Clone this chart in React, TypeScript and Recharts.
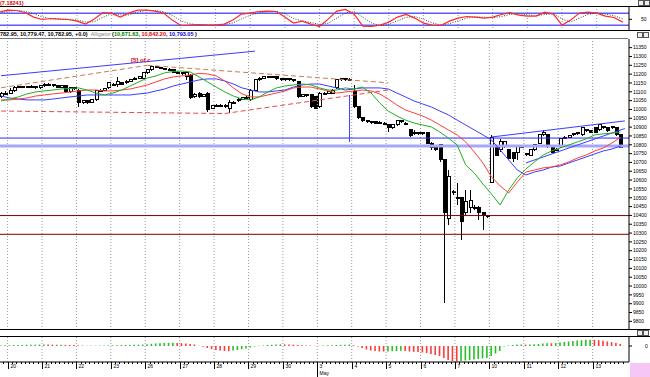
import React from 'react';
import { ComposedChart, Bar, Line, XAxis, YAxis, ReferenceLine, Cell } from 'recharts';

// ---------- data ----------
const OPEN = [11076,11088,11093,11110,11127,11127,11130,11127,11130,11122,
11133,11144,11139,11133,11127,11133,11099,11122,11110,11037,
11048,11042,11054,11105,11110,11122,11144,11139,11150,11150,
11161,11173,11178,11178,11207,11224,11241,11235,11232,11229,
11224,11212,11207,11184,11195,11071,11093,11076,11093,11008,
11020,11025,11014,11008,11037,11048,11059,11065,11054,11110,
11167,11178,11184,11181,11184,11173,11167,11173,11167,11156,
11076,11082,11082,11071,11014,11088,11093,11093,11122,11167,
11173,11170,11099,11014,10952,10935,10929,10929,10923,10923,
10912,10895,10912,10935,10923,10884,10861,10867,10861,10867,
10810,10788,10799,10714,10385,10527,10504,10499,10419,10442,
10442,10442,10414,10397,10589,10788,10771,10788,10771,10754,
10754,10793,10748,10742,10771,10810,10856,10856,10788,10771,
10788,10838,10844,10856,10867,10856,10884,10878,10895,10884,
10901,10895,10901,10895,10856,null];
const CLOSE = [11088,11093,11110,11127,11128,11130,11127,11130,11122,11133,
11144,11139,11133,11127,11133,11099,11122,11116,11037,11048,
11042,11054,11105,11110,11116,11150,11139,11156,11144,11161,
11167,11178,11184,11207,11224,11241,11238,11232,11229,11226,
11212,11209,11201,11207,11065,11082,11076,11082,10997,11020,
11025,11020,11025,11042,11042,11057,11065,11068,11110,11167,
11178,11184,11181,11184,11173,11167,11173,11167,11164,11071,
11082,11079,11014,11008,11093,11093,11099,11110,11167,11173,
11170,11167,11014,10952,10935,10929,10926,10923,10926,10918,
10895,10912,10935,10929,10918,10850,10867,10861,10867,10810,
10782,10776,10714,10419,10618,10533,10499,10363,10476,10487,
10443,10414,10397,10391,10844,10742,10816,10816,10725,10725,
10788,10790,10745,10771,10799,10856,10867,10788,10759,10776,
10833,10844,10850,10861,10864,10895,10878,10872,10872,10912,
10895,10878,10895,10856,10783,null];
const HIGH = [11099,11105,11122,11133,11133,11133,11133,11139,11133,11139,
11150,11150,11144,11139,11139,11139,11127,11127,11116,11054,
11054,11059,11110,11116,11122,11156,11150,11184,11156,11167,
11173,11184,11190,11212,11229,11246,11246,11241,11235,11235,
11229,11218,11212,11218,11201,11093,11099,11088,11099,11025,
11031,11031,11031,11054,11048,11065,11071,11076,11116,11173,
11184,11190,11190,11190,11190,11178,11178,11178,11173,11161,
11088,11088,11088,11076,11099,11099,11105,11116,11173,11178,
11178,11178,11139,11020,10957,10940,10935,10935,10935,10929,
10918,10918,10940,10940,10929,10889,10884,10872,10872,10872,
10816,10793,10804,10720,10657,10544,10584,10504,10544,10544,
10459,10453,10419,10402,10856,10793,10833,10821,10776,10759,
10799,10799,10754,10776,10804,10861,10884,10861,10793,10782,
10838,10850,10856,10867,10872,10901,10889,10884,10901,10918,
10906,10901,10906,10901,10861,null];
const LOW = [11065,11082,11088,11099,11122,11122,11122,11122,11116,11116,
11127,11133,11127,11122,11122,11093,11093,11110,11014,11031,
11031,11037,11048,11099,11105,11116,11133,11127,11139,11144,
11156,11167,11173,11173,11201,11218,11235,11229,11224,11224,
11207,11207,11195,11167,11059,11065,11065,11071,10986,11003,
11014,11014,11008,10980,11031,11042,11054,11059,11048,11105,
11161,11173,11178,11178,11167,11161,11161,11161,11156,11065,
11071,11071,11008,11003,11008,11082,11088,11088,11116,11161,
11161,11161,11008,10946,10929,10923,10918,10918,10918,10912,
10872,10889,10906,10923,10912,10844,10856,10856,10856,10804,
10771,10765,10703,9904,10346,10516,10459,10261,10402,10414,
10431,10374,10317,10385,10584,10737,10759,10782,10720,10703,
10714,10782,10737,10737,10765,10804,10850,10782,10754,10765,
10782,10833,10838,10850,10856,10850,10872,10867,10867,10878,
10889,10872,10889,10850,10782,null];

// Alligator, one value every second bar
const LIPS = [11048,11059,11071,11088,11099,11105,11110,11116,11119,11122,
11110,11093,11082,11093,11110,11133,11156,11178,11190,11207,
11215,11218,11212,11184,11156,11127,11099,11076,11059,11054,
11071,11099,11122,11133,11139,11144,11139,11122,11110,11110,
11122,11116,11127,11093,11037,10991,10963,10940,10923,10912,
10901,10872,10838,10799,10686,10640,10578,10521,10459,10544,
10612,10663,10703,10742,10765,10782,10799,10816,10833,10856,
10862,10866,10872];
const TEETH = [11054,11054,11059,11065,11076,11082,11088,11093,11099,11105,
11110,11110,11105,11105,11110,11116,11127,11139,11156,11173,
11184,11190,11195,11204,11201,11190,11161,11122,11088,11071,
11071,11082,11093,11105,11122,11127,11127,11116,11105,11093,
11099,11105,11110,11105,11088,11059,11025,10997,10980,10963,
10940,10912,10884,10856,10816,10759,10697,10618,10567,10527,
10589,10646,10657,10669,10674,10686,10703,10725,10742,10765,
10782,10810,10842];
const JAW = [11076,11065,11059,11054,11054,11054,11059,11065,11071,11076,
11082,11082,11082,11082,11082,11082,11088,11093,11105,11116,
11133,11144,11156,11167,11173,11173,11161,11144,11122,11110,
11099,11099,11105,11110,11127,11139,11144,11144,11133,11122,
11110,11116,11122,11122,11122,11116,11093,11071,11048,11031,
11014,10991,10969,10940,10912,10884,10856,10827,10771,10714,
10657,10629,10646,10657,10674,10680,10697,10714,10731,10748,
10765,10776,10793];

// Stochastic, one value every second bar
const STOCH_K = [86,96,94,84,61,49,54,51,49,41,
26,51,84,81,61,81,96,96,91,81,
46,19,21,24,21,21,26,46,76,81,
89,91,89,61,31,41,26,14,51,91,
99,76,16,14,21,36,61,74,56,31,
21,19,41,56,64,61,56,61,74,84,
71,66,66,86,76,21,46,81,86,81,
66,59,36];
const STOCH_D = [80,90,94,90,78,62,52,52,50,46,
36,38,60,78,72,72,86,94,94,88,
70,42,28,22,22,21,23,32,52,70,
82,88,90,78,54,42,34,24,30,56,
82,88,60,32,18,26,42,60,64,50,
32,22,28,42,56,62,60,58,64,74,
78,72,68,74,78,52,36,56,74,82,
76,68,52];

// Awesome oscillator
const AO = [5,8,8,9,10,11,12,13,13,14,
15,14,13,12,12,11,10,9,6,4,
3,2,3,4,5,6,7,8,9,10,
11,12,13,14,18,22,26,28,30,31,
32,30,28,25,20,15,2,-8,-20,-30,
-40,-45,-50,-52,-45,-40,-32,-25,-15,-5,
3,6,10,12,15,17,16,15,13,10,
8,6,4,2,3,5,6,8,10,12,
13,14,8,-5,-20,-35,-45,-50,-55,-56,
-55,-52,-50,-48,-50,-55,-58,-60,-65,-70,
-80,-90,-100,-120,-140,-150,-155,-150,-145,-140,
-135,-130,-125,-120,-100,-75,-50,-5,5,10,
14,15,14,16,17,20,25,28,27,30,
35,40,45,50,55,58,62,63,62,58,
52,45,38,30,20,null];

const DAY_FIRST_BAR = [2,10,18,26,34,42,50,58,66,74,82,90,98,106,114,122,130,138];
const DAY_LABELS = ['20','21','22','23','26','27','28','29','30','3','4','5','6','7','10','11','12','13'];
const MONTH_LABEL = { bar: 74, text: 'May' };

const PRICE_TICKS = [9800,9850,9900,9950,10000,10050,10100,10150,10200,10250,10300,10350,10400,10450,10500,10550,10600,10650,10700,10750,10800,10850,10900,10950,11000,11050,11100,11150,11200,11250,11300,11350];

const LEVEL_BLUE = 10838;
const LEVEL_LAVENDER = 10793;
const LEVELS_MAROON = [10399, 10293];

// drawn lines: [bar, price] pairs
const BLUE_LINES = [
  [[0, 11191], [59, 11330]],
  [[114, 10844], [145, 10935]],
  [[122, 10697], [145, 10892]],
  [[81, 11082], [81, 10816]],
];
const BROWN_DASHED = [
  [[0, 11123], [34, 11250]],
  [[34, 11250], [90, 11151]],
];
const RED_DASHED = [
  [[0, 10991], [52, 10977]],
  [[52, 10977], [90, 11110]],
];

// ---------- table ----------
const ROWS = OPEN.map((open, i) => {
  const even = i % 2 === 0 ? i / 2 : -1;
  const pick = (arr: number[]) => (even >= 0 && even < arr.length ? arr[even] : null);
  return {
    i,
    open,
    close: CLOSE[i],
    high: HIGH[i],
    low: LOW[i],
    range: open == null ? null : [LOW[i], HIGH[i]],
    lips: pick(LIPS),
    teeth: pick(TEETH),
    jaw: pick(JAW),
    k: pick(STOCH_K),
    d: pick(STOCH_D),
    ao: AO[i],
  };
});

const FONT = 'Liberation Sans, Arial, sans-serif';
const CHART_W = 651;
const AXIS_W = 21;
const BAND = (CHART_W - AXIS_W - 2) / OPEN.length;

function Candle(props: any) {
  const { x, y, width, height, payload } = props;
  if (!payload || payload.high == null) return null;
  const { open, close, high, low } = payload;
  const top = Math.min(y, y + height);
  const h = Math.abs(height);
  const k = high - low > 0 ? h / (high - low) : 0;
  const yO = top + (high - open) * k;
  const yC = top + (high - close) * k;
  const cx = Math.round(x + width / 2) + 0.5;
  const bTop = Math.min(yO, yC);
  const bH = Math.max(Math.abs(yO - yC), 1);
  const bull = close >= open;
  return (
    <g shapeRendering="crispEdges">
      <line x1={cx} x2={cx} y1={top} y2={top + h} stroke="#000" strokeWidth={1} />
      <rect x={cx - 1.5} y={bTop} width={3} height={bH} fill={bull ? '#fff' : '#000'} stroke="#000" strokeWidth={1} />
    </g>
  );
}

function DayTick(props: any) {
  const { x, y, payload } = props;
  const v = payload.value;
  const x0 = Math.round(x - BAND / 2) + 0.5;
  const idx = DAY_FIRST_BAR.indexOf(v);
  return (
    <g>
      <line x1={x0} x2={x0} y1={y} y2={y + 2} stroke="#000" strokeWidth={1} />
      {idx >= 0 && (
        <g>
          <line x1={x0} x2={x0} y1={y} y2={y + 7} stroke="#000" strokeWidth={1} />
          <text x={x0 + 2} y={y + 6} fontSize={5} fontFamily={FONT} fill="#000">{DAY_LABELS[idx]}</text>
          {v === MONTH_LABEL.bar && (
            <g>
              <line x1={x0} x2={x0} y1={y + 7} y2={y + 15} stroke="#000" strokeWidth={1} />
              <text x={x0 + 2} y={y + 13} fontSize={5} fontFamily={FONT} fill="#000">{MONTH_LABEL.text}</text>
            </g>
          )}
        </g>
      )}
    </g>
  );
}

const xAxisProps = {
  dataKey: 'i',
  type: 'category' as const,
  padding: { left: 0, right: 2 },
};

function dayLines() {
  return DAY_FIRST_BAR.map((d) => (
    <ReferenceLine key={'dl' + d} x={d} position="start" stroke="#9a9a9a" strokeDasharray="1 2" ifOverflow="visible" />
  ));
}

function segLines(list: number[][][], stroke: string, dash?: string, w = 1) {
  return list.map((s, n) => (
    <ReferenceLine
      key={stroke + n}
      segment={[{ x: s[0][0], y: s[0][1] }, { x: s[1][0], y: s[1][1] }]}
      stroke={stroke}
      strokeWidth={w}
      strokeDasharray={dash}
      ifOverflow="visible"
    />
  ));
}

const hLine = (top: number, left: number, width: number, color = '#000') => (
  <div style={{ position: 'absolute', top, left, width, height: 1, background: color }} />
);

const btn = (left: number, top: number) => (
  <div style={{ position: 'absolute', left, top, width: 4, height: 4, border: '1px solid #555', background: '#eee' }} />
);

export default function App() {
  const aoColors = AO.map((v, i) => (i > 0 && v != null && AO[i - 1] != null && v < (AO[i - 1] as number) ? '#ff3a3a' : '#26c026'));
  return (
    <div style={{ position: 'absolute', left: 0, top: 0, width: 650, height: 377, background: '#fff', overflow: 'hidden', fontFamily: FONT }}>
      {/* Stochastic */}
      <div style={{ position: 'absolute', left: -1, top: 0 }}>
        <ComposedChart width={CHART_W} height={31} data={ROWS} margin={{ top: 7, right: 0, bottom: 0, left: 0 }}>
          <XAxis {...xAxisProps} hide />
          <YAxis orientation="right" width={AXIS_W} domain={[-8.5, 111.5]} allowDataOverflow ticks={[50]} tickSize={3} tickMargin={9}
            tick={{ fontSize: 5, fill: '#000', fontFamily: FONT }} axisLine={{ stroke: '#000' }} tickLine={{ stroke: '#000' }} />
          {dayLines()}
          <ReferenceLine y={80} stroke="#5b5bff" strokeWidth={1.5} />
          <ReferenceLine y={20} stroke="#5b5bff" strokeWidth={1.5} />
          <Line dataKey="d" stroke="#444" strokeWidth={1} strokeDasharray="1 1.5" dot={false} connectNulls isAnimationActive={false} />
          <Line dataKey="k" stroke="#ff2a2a" strokeWidth={1.2} dot={false} connectNulls isAnimationActive={false} />
        </ComposedChart>
      </div>

      {/* Main */}
      <div style={{ position: 'absolute', left: -1, top: 39 }}>
        <ComposedChart width={CHART_W} height={291} data={ROWS} margin={{ top: 0, right: 0, bottom: 0, left: 0 }} barCategoryGap="10%">
          <XAxis {...xAxisProps} hide />
          <YAxis orientation="right" width={AXIS_W} domain={[9751, 11399]} allowDataOverflow ticks={PRICE_TICKS} interval={0} tickSize={3} tickMargin={1}
            tick={{ fontSize: 5, fill: '#000', fontFamily: FONT }} axisLine={{ stroke: '#000' }} tickLine={{ stroke: '#000' }} />
          {dayLines()}
          <ReferenceLine y={LEVEL_LAVENDER} stroke="#a6a6ff" strokeWidth={3} />
          <ReferenceLine y={LEVEL_BLUE} stroke="#2a2aff" strokeWidth={1} />
          {LEVELS_MAROON.map((v) => (
            <ReferenceLine key={'m' + v} y={v} stroke="#7a0000" strokeWidth={1} />
          ))}
          {segLines(BROWN_DASHED, '#c87a50', '5 3')}
          {segLines(RED_DASHED, '#e84a4a', '5 3')}
          {segLines(BLUE_LINES, '#3c3cff')}
          <Line dataKey="jaw" stroke="#3c3cff" strokeWidth={1} dot={false} connectNulls isAnimationActive={false} />
          <Line dataKey="teeth" stroke="#ff3c3c" strokeWidth={1} dot={false} connectNulls isAnimationActive={false} />
          <Line dataKey="lips" stroke="#1fb01f" strokeWidth={1} dot={false} connectNulls isAnimationActive={false} />
          <Bar dataKey="range" shape={(p: any) => <Candle {...p} />} isAnimationActive={false} />
        </ComposedChart>
      </div>

      {/* AO */}
      <div style={{ position: 'absolute', left: -1, top: 337 }}>
        <ComposedChart width={CHART_W} height={40} data={ROWS} margin={{ top: 0, right: 0, bottom: 0, left: 0 }}>
          <XAxis {...xAxisProps} height={15} interval={0} tickSize={0} tickMargin={0} tickLine={false}
            axisLine={{ stroke: '#000' }} tick={(p: any) => <DayTick {...p} />} />
          <YAxis orientation="right" width={AXIS_W} domain={[-160, 90]} allowDataOverflow ticks={[0]} tickSize={3} tickMargin={13}
            tick={{ fontSize: 5, fill: '#000', fontFamily: FONT }} axisLine={{ stroke: '#000' }} tickLine={{ stroke: '#000' }} />
          {dayLines()}
          <Bar dataKey="ao" barSize={1.6} isAnimationActive={false}>
            {ROWS.map((r, i) => (
              <Cell key={i} fill={aoColors[i]} />
            ))}
          </Bar>
        </ComposedChart>
      </div>

      {/* frames */}
      {hLine(6, 0, 650)}
      {hLine(30, 0, 650)}
      {hLine(38, 0, 628, '#777')}
      {hLine(329, 0, 650)}
      {hLine(336, 0, 650)}

      {/* texts */}
      <div style={{ position: 'absolute', left: 0, top: 0, fontSize: 5.5, fontWeight: 'bold', color: '#e00000', lineHeight: '6px' }}>(7.18241)</div>
      <div style={{ position: 'absolute', left: 0, top: 31, height: 7, fontSize: 5.5, fontWeight: 'bold', lineHeight: '7px', whiteSpace: 'nowrap', background: '#fff', paddingRight: 2 }}>
        <span style={{ color: '#000' }}>782.95, 10,779.47, 10,782.95, +0.0)</span>
        <span style={{ color: '#888', fontWeight: 'normal' }}>&nbsp;&nbsp;Alligator&nbsp;</span>
        <span style={{ color: '#000' }}>(</span>
        <span style={{ color: '#008000' }}>10,871.63</span>
        <span style={{ color: '#000' }}>, </span>
        <span style={{ color: '#e00000' }}>10,842.20</span>
        <span style={{ color: '#000' }}>, </span>
        <span style={{ color: '#0000e0' }}>10,793.05</span>
        <span style={{ color: '#000' }}> )</span>
      </div>
      <div style={{ position: 'absolute', left: 131, top: 57, fontSize: 6, fontWeight: 'bold', color: '#e00000', lineHeight: '6px', whiteSpace: 'nowrap' }}>[5] of c</div>

      {/* window buttons */}
      {btn(638, 0)}
      {btn(644, 0)}
      {btn(637, 32)}
      {btn(643, 32)}
      {btn(637, 330)}
      {btn(643, 330)}

      <div style={{ position: 'absolute', left: 630, top: 363, width: 20, height: 14, background: '#f6c6f6' }} />
    </div>
  );
}
